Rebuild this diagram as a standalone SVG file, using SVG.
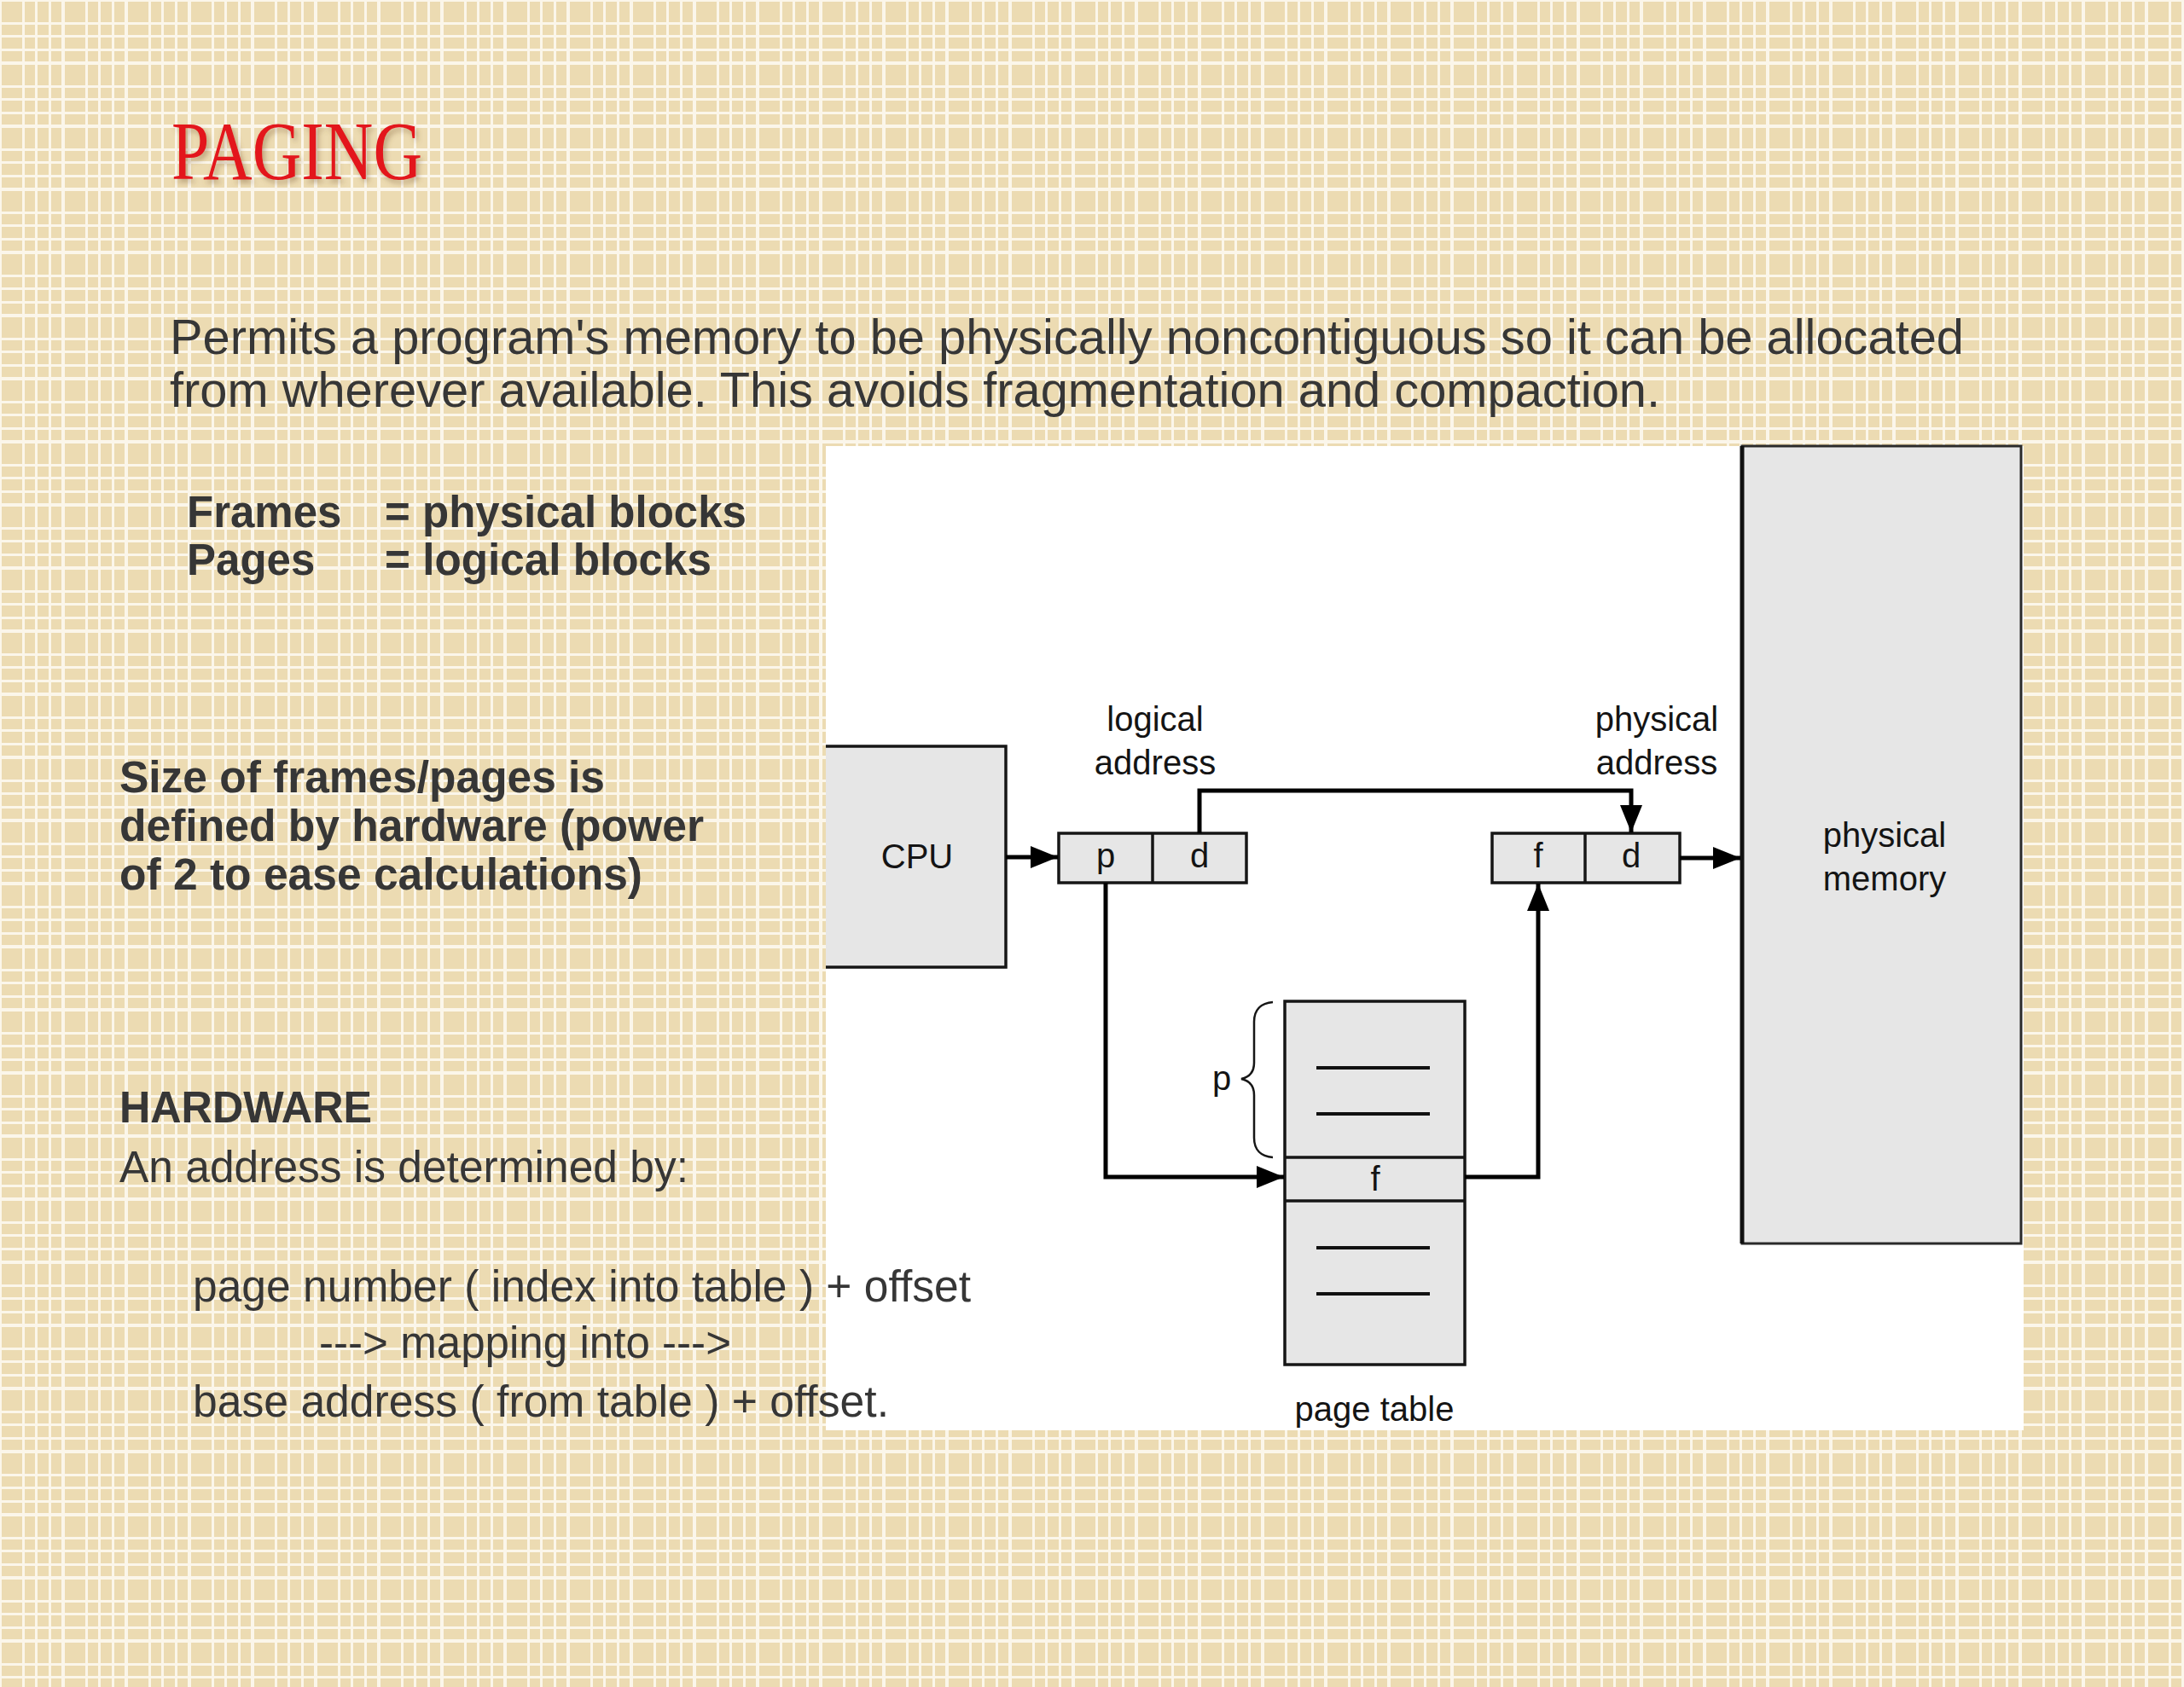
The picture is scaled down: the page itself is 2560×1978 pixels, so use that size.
<svg xmlns="http://www.w3.org/2000/svg" width="2560" height="1978" viewBox="0 0 2560 1978">
<defs>
<pattern id="grid" x="0" y="0" width="74" height="74" patternUnits="userSpaceOnUse">
<rect width="74" height="74" fill="#fbf6ea"/>
<rect x="2" y="2" width="24" height="24" fill="#ecdbb2"/>
<rect x="29" y="2" width="12" height="24" fill="#ecdbb2"/>
<rect x="44" y="2" width="13" height="24" fill="#ecdbb2"/>
<rect x="60" y="2" width="12" height="24" fill="#ecdbb2"/>
<rect x="2" y="29" width="24" height="12" fill="#ecdbb2"/>
<rect x="29" y="29" width="12" height="12" fill="#ecdbb2"/>
<rect x="44" y="29" width="13" height="12" fill="#ecdbb2"/>
<rect x="60" y="29" width="12" height="12" fill="#ecdbb2"/>
<rect x="2" y="44" width="24" height="13" fill="#ecdbb2"/>
<rect x="29" y="44" width="12" height="13" fill="#ecdbb2"/>
<rect x="44" y="44" width="13" height="13" fill="#ecdbb2"/>
<rect x="60" y="44" width="12" height="13" fill="#ecdbb2"/>
<rect x="2" y="60" width="24" height="12" fill="#ecdbb2"/>
<rect x="29" y="60" width="12" height="12" fill="#ecdbb2"/>
<rect x="44" y="60" width="13" height="12" fill="#ecdbb2"/>
<rect x="60" y="60" width="12" height="12" fill="#ecdbb2"/>
</pattern>
<marker id="ah" markerUnits="userSpaceOnUse" markerWidth="32" markerHeight="28" refX="32" refY="14" orient="auto">
<path d="M0,1 L32,14 L0,27 z" fill="#000"/>
</marker>
<filter id="shadow" x="-10%" y="-10%" width="130%" height="140%">
<feDropShadow dx="3" dy="4" stdDeviation="3" flood-color="#7a5a30" flood-opacity="0.45"/>
</filter>
</defs>
<style>
.body{font-family:"Liberation Sans",Arial,Helvetica,sans-serif;fill:#363636}
.b{font-weight:bold}
.lbl{font-family:"Liberation Sans",Arial,Helvetica,sans-serif;font-size:40px;fill:#141414;text-anchor:middle}
.box{fill:#e6e6e6;stroke:#161616;stroke-width:3.5}
.rule{stroke:#111;stroke-width:4;fill:none}
.conn{fill:none;stroke:#000;stroke-width:5}
.arr{marker-end:url(#ah)}
</style>
<rect width="2560" height="1978" fill="url(#grid)"/>
<rect id="panel" x="968" y="523" width="1404" height="1154" fill="#ffffff"/>

<g id="title">
<text x="201" y="210" font-family="'Liberation Serif','Times New Roman',serif" font-size="98" fill="#e3131c" textLength="294" lengthAdjust="spacingAndGlyphs" filter="url(#shadow)">PAGING</text>
</g>

<g id="intro" class="body" font-size="58">
<text x="199" y="415" textLength="2103" lengthAdjust="spacingAndGlyphs">Permits a program's memory to be physically noncontiguous so it can be allocated</text>
<text x="199" y="477" textLength="1747" lengthAdjust="spacingAndGlyphs">from wherever available. This avoids fragmentation and compaction.</text>
</g>

<g id="definitions" class="body b" font-size="51">
<text x="219" y="618">Frames</text>
<text x="451" y="618" textLength="424" lengthAdjust="spacingAndGlyphs">= physical blocks</text>
<text x="219" y="674">Pages</text>
<text x="451" y="674" textLength="383" lengthAdjust="spacingAndGlyphs">= logical blocks</text>
</g>

<g id="size-note" class="body b" font-size="51">
<text x="140" y="929" textLength="569" lengthAdjust="spacingAndGlyphs">Size of frames/pages is</text>
<text x="140" y="986" textLength="685" lengthAdjust="spacingAndGlyphs">defined by hardware (power</text>
<text x="140" y="1043" textLength="613" lengthAdjust="spacingAndGlyphs">of 2 to ease calculations)</text>
</g>

<g id="hardware" class="body" font-size="51">
<text x="140" y="1316" class="b" textLength="296" lengthAdjust="spacingAndGlyphs">HARDWARE</text>
<text x="140" y="1386" textLength="667" lengthAdjust="spacingAndGlyphs">An address is determined by:</text>
<text x="226" y="1526" textLength="912" lengthAdjust="spacingAndGlyphs">page number ( index into table ) + offset</text>
<text x="374" y="1592" textLength="483" lengthAdjust="spacingAndGlyphs">---&gt; mapping into ---&gt;</text>
<text x="226" y="1661" textLength="816" lengthAdjust="spacingAndGlyphs">base address ( from table ) + offset.</text>
</g>

<g id="cpu">
<rect x="968" y="875" width="211" height="259" fill="#e6e6e6"/>
<path d="M968,875 H1179 V1134 H968" fill="none" stroke="#161616" stroke-width="3.5"/>
<text class="lbl" x="1075" y="1018">CPU</text>
</g>

<g id="logical-address">
<rect class="box" x="1241" y="977" width="220" height="58"/>
<line x1="1351" y1="977" x2="1351" y2="1035" stroke="#161616" stroke-width="3.5"/>
<text class="lbl" x="1296" y="1017">p</text>
<text class="lbl" x="1406" y="1017">d</text>
<text class="lbl" x="1354" y="857">logical</text>
<text class="lbl" x="1354" y="908">address</text>
</g>

<g id="physical-address">
<rect class="box" x="1749" y="977" width="220" height="58"/>
<line x1="1858" y1="977" x2="1858" y2="1035" stroke="#161616" stroke-width="3.5"/>
<text class="lbl" x="1803" y="1017">f</text>
<text class="lbl" x="1912" y="1017">d</text>
<text class="lbl" x="1942" y="857">physical</text>
<text class="lbl" x="1942" y="908">address</text>
</g>

<g id="page-table">
<rect class="box" x="1506" y="1174" width="211" height="426"/>
<line x1="1506" y1="1357" x2="1717" y2="1357" stroke="#161616" stroke-width="3.5"/>
<line x1="1506" y1="1408" x2="1717" y2="1408" stroke="#161616" stroke-width="3.5"/>
<line class="rule" x1="1543" y1="1252" x2="1676" y2="1252"/>
<line class="rule" x1="1543" y1="1306" x2="1676" y2="1306"/>
<line class="rule" x1="1543" y1="1463" x2="1676" y2="1463"/>
<line class="rule" x1="1543" y1="1517" x2="1676" y2="1517"/>
<text class="lbl" x="1612" y="1396">f</text>
<path d="M1492,1175 C1478,1176 1470,1184 1470,1198 V1246 C1470,1257 1464,1263 1455,1265 C1464,1267 1470,1273 1470,1284 V1334 C1470,1348 1478,1356 1492,1357" fill="none" stroke="#161616" stroke-width="2.5"/>
<text class="lbl" x="1432" y="1278">p</text>
<text class="lbl" x="1611" y="1666">page table</text>
</g>

<g id="physical-memory">
<rect x="2042" y="523" width="327" height="935" fill="#e6e6e6" stroke="#2a2a2a" stroke-width="3"/>
<line x1="2042" y1="523" x2="2042" y2="1458" stroke="#111" stroke-width="5"/>
<text class="lbl" x="2209" y="993">physical</text>
<text class="lbl" x="2209" y="1044">memory</text>
</g>

<g id="connectors">
<path class="conn arr" d="M1179,1005 H1240"/>
<path class="conn arr" d="M1406,977 V927 H1912 V976"/>
<path class="conn arr" d="M1969,1006 H2040"/>
<path class="conn arr" d="M1296,1035 V1380 H1505"/>
<path class="conn arr" d="M1717,1380 H1803 V1036"/>
</g>
</svg>
